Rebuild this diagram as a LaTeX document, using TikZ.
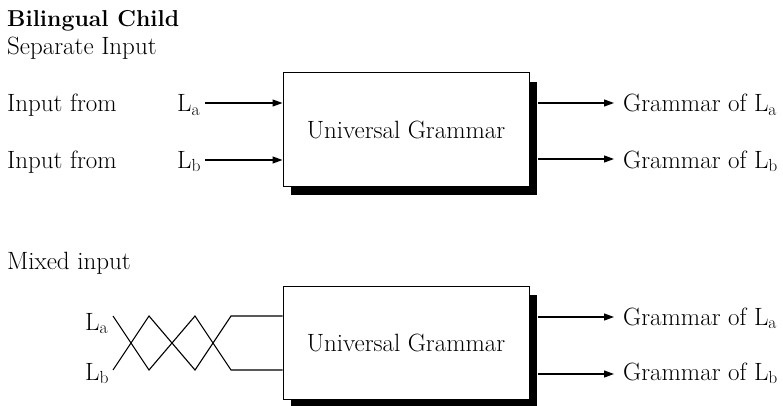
\documentclass[tikz,border=0pt]{standalone}
\usetikzlibrary{arrows.meta,shadows}
\begin{document}
\begin{tikzpicture}[x=1pt,y=-1pt,
  every node/.style={font=\fontsize{25}{30}\selectfont, inner sep=0pt},
  txt/.style={anchor=base west},
  ugbox/.style={draw, line width=1pt, fill=white, minimum width=246pt, minimum height=113pt,
    drop shadow={shadow xshift=8pt, shadow yshift=-9pt, fill=black, opacity=1}},
  arr/.style={line width=1.2pt, -{Triangle[length=10pt,width=7pt]}},
  wire/.style={line width=1.1pt}]
\useasboundingbox (0,0) rectangle (783,406);
% titles
\node[txt, font=\fontsize{23}{28}\selectfont\bfseries] (title) at (7,27) {Bilingual Child};
\node[txt] (sep) at (7,55) {Separate Input};
\node[txt] (mix) at (7,269) {Mixed input};
% top part
\node[ugbox] (box1) at (406,129.5) {Universal Grammar};
\node[txt] (in1) at (7,112) {Input from};
\node[txt] (in2) at (7,168) {Input from};
\node[txt] (la1) at (177,112) {L\textsubscript{a}};
\node[txt] (lb1) at (177,168) {L\textsubscript{b}};
\coordinate (ia) at (205,103);
\coordinate (ib) at (205,160);
\draw[arr] (ia) -- (ia -| box1.west);
\draw[arr] (ib) -- (ib -| box1.west);
\coordinate (oa) at (614,103);
\coordinate (ob) at (614,159);
\draw[arr] ([xshift=8pt]box1.east |- oa) -- (oa);
\draw[arr] ([xshift=8pt]box1.east |- ob) -- (ob);
\node[txt] (ga1) at (623,112) {Grammar of L\textsubscript{a}};
\node[txt] (gb1) at (623,168) {Grammar of L\textsubscript{b}};
% bottom part
\node[ugbox] (box2) at (406,342.5) {Universal Grammar};
\node[txt] (la2) at (85,330) {L\textsubscript{a}};
\node[txt] (lb2) at (85,380) {L\textsubscript{b}};
\coordinate (ta) at (113,316);
\coordinate (tb) at (113,370);
\draw[wire] (ta) -- (149,370) -- (195,316) -- (231,370) -- (tb -| box2.west);
\draw[wire] (tb) -- (149,316) -- (195,370) -- (231,316) -- (ta -| box2.west);
\coordinate (oc) at (614,317);
\coordinate (od) at (614,374);
\draw[arr] ([xshift=8pt]box2.east |- oc) -- (oc);
\draw[arr] ([xshift=8pt]box2.east |- od) -- (od);
\node[txt] (ga2) at (623,325) {Grammar of L\textsubscript{a}};
\node[txt] (gb2) at (623,380) {Grammar of L\textsubscript{b}};
\end{tikzpicture}
\end{document}
